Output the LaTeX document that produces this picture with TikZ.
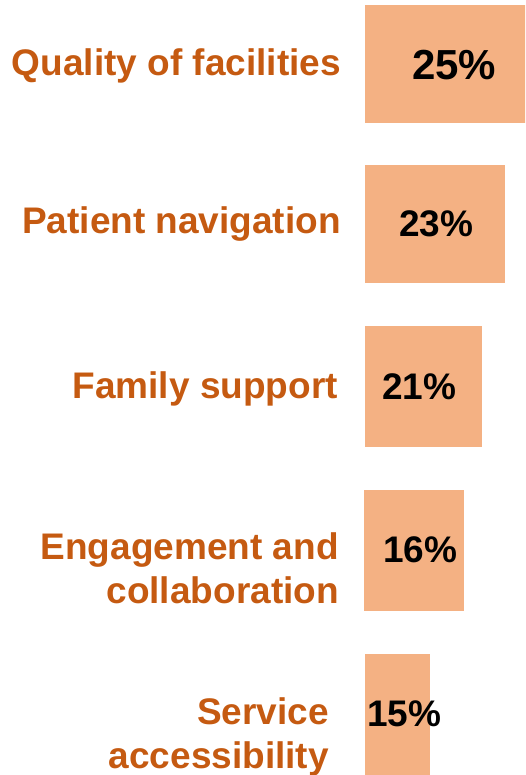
\documentclass[tikz,border=0pt]{standalone}
\usepackage{fontspec}
\setmainfont{Liberation Sans}
\definecolor{lab}{HTML}{C55A11}
\definecolor{barc}{HTML}{F4B183}
\begin{document}
\begin{tikzpicture}[x=1pt,y=-1pt,
  bar/.style={fill=barc, draw=none, inner sep=0pt, outer sep=0pt, anchor=north west},
  lbl/.style={text=lab, font=\fontsize{37}{44}\selectfont\bfseries, inner sep=0pt, anchor=base east, align=right},
  pct/.style={text=black, font=\fontsize{37}{44}\selectfont\bfseries, inner sep=0pt, anchor=base west}]
\useasboundingbox (0,0) rectangle (525,775);
\clip (0,0) rectangle (525,775);
\node[bar, minimum width=170pt, minimum height=118pt] (b1) at (365,5) {};
\node[bar, minimum width=140pt, minimum height=118pt] (b2) at (365,165) {};
\node[bar, minimum width=117pt, minimum height=121pt] (b3) at (365,326) {};
\node[bar, minimum width=100pt, minimum height=121pt] (b4) at (364,490) {};
\node[bar, minimum width=65pt, minimum height=130pt] (b5) at (365,654) {};
\node[pct, font=\fontsize{42}{48}\selectfont\bfseries] (p1) at (412,80) {25\%};
\node[pct] (p2) at (399,237) {23\%};
\node[pct] (p3) at (382,399) {21\%};
\node[pct] (p4) at (383,562) {16\%};
\node[pct] (p5) at (367,726) {15\%};
\node[lbl] (l1) at (341,76) {Quality of facilities};
\node[lbl] (l2) at (341,234) {Patient navigation};
\node[lbl] (l3) at (338,398) {Family support};
\node[lbl] (l4) at (339,603) {Engagement and\\collaboration};
\node[lbl] (l5) at (329,768) {Service\\accessibility};
\end{tikzpicture}
\end{document}
